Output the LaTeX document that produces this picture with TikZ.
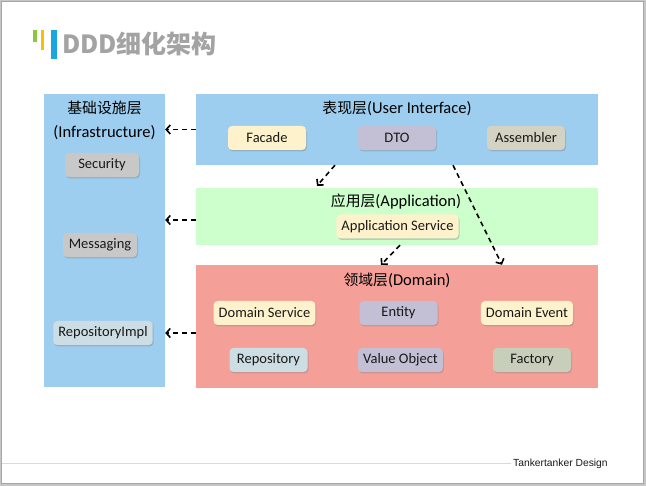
\documentclass[tikz,border=0pt]{standalone}
\usepackage{fontspec}
\setmainfont{Carlito}
\newfontfamily\cjk{Noto Sans CJK SC}[Scale=0.9]
\newfontfamily\cjkhead{Noto Sans CJK SC}
\newfontfamily\footfont{Liberation Sans}
\usepackage{xcolor}
\definecolor{layerblue}{HTML}{9DCDEF}
\definecolor{layergreen}{HTML}{CCFFCC}
\definecolor{layerred}{HTML}{F4A099}
\definecolor{itemyellow}{HTML}{FDF2CB}
\definecolor{itemviolet}{HTML}{C3C0D6}
\definecolor{itemolive}{HTML}{D3D2C3}
\definecolor{itemsage}{HTML}{C7CEBA}
\definecolor{itemsteel}{HTML}{CCDDE4}
\definecolor{itemgray}{HTML}{C8C8C8}
\definecolor{titlegray}{HTML}{A3A3A3}
\definecolor{bargreen}{HTML}{8DC63F}
\definecolor{baryellow}{HTML}{F6C200}
\definecolor{barblue}{HTML}{19A6E1}
\usepackage{tikz}
\usetikzlibrary{arrows.meta, positioning, calc, shadows}

\begin{document}
\begin{tikzpicture}[x=1pt, y=-1pt, >={Straight Barb[length=4pt, width=9pt]},
  layer/.style={rectangle, inner sep=0pt},
  layertitle/.style={font=\fontsize{16.5}{20}\selectfont, inner sep=0pt},
  item/.style={rectangle, rounded corners=4pt, minimum width=78pt,
               minimum height=24pt, inner xsep=5pt, inner ysep=0pt,
               font=\fontsize{14.5}{17}\selectfont, text=black!90,
               drop shadow={shadow xshift=1pt, shadow yshift=-1.5pt, opacity=0.35}},
  dep/.style={->, line width=1.6pt, dash pattern=on 5pt off 4pt}]

  \useasboundingbox (0,0) rectangle (646,486);

  % page
  \fill[gray!45] (0,0) rectangle (646,486);
  \fill[white] (1,1) rectangle (643,483);
  \draw[gray!70, line width=0.8pt] (1.5,1.5) rectangle (643,483);

  % heading
  \fill[bargreen] (33,30) rectangle (37,42);
  \fill[baryellow] (41,30) rectangle (44,50);
  \fill[barblue] (51,30) rectangle (57,59);
  \node[anchor=west, inner sep=0pt, text=titlegray,
        font=\cjkhead\bfseries\fontsize{25}{29}\selectfont] (title) at (62,44)
        {DDD细化架构};

  % layers
  \node[layer, fill=layerblue, minimum width=121pt, minimum height=293pt] (infra) at (104.5,240.5) {};
  \node[layertitle] (infratitle) at (104.5,108) {\cjk 基础设施层};
  \node[layertitle] (infrasub) at (104.5,133) {(Infrastructure)};

  \node[layer, fill=layerblue, minimum width=402pt, minimum height=71pt] (ui) at (397,129.5) {};
  \node[layertitle] (uititle) at (397,108) {{\cjk 表现层}(User Interface)};

  \node[layer, fill=layergreen, minimum width=402pt, minimum height=57pt] (app) at (397,216.5) {};
  \node[layertitle] (apptitle) at (396,202) {{\cjk 应用层}(Application)};

  \node[layer, fill=layerred, minimum width=402pt, minimum height=123pt] (dom) at (397,326.5) {};
  \node[layertitle] (domtitle) at (397,280) {{\cjk 领域层}(Domain)};

  % building blocks
  \node[item, fill=itemgray, minimum width=74pt] (security) at (102,165) {Security};
  \node[item, fill=itemgray, minimum width=74pt] (messaging) at (100,245) {Messaging};
  \node[item, fill=itemsteel] (repoimpl) at (103,333) {RepositoryImpl};

  \node[item, fill=itemyellow] (facade) at (267,138) {Facade};
  \node[item, fill=itemviolet] (dto) at (397,138) {DTO};
  \node[item, fill=itemolive] (assembler) at (526,138) {Assembler};

  \node[item, fill=itemyellow] (appservice) at (397.5,226.5) {Application Service};

  \node[item, fill=itemyellow] (domservice) at (264.5,313) {Domain Service};
  \node[item, fill=itemviolet] (entity) at (398.5,313) {Entity};
  \node[item, fill=itemyellow] (domevent) at (527,313) {Domain Event};
  \node[item, fill=itemsteel] (repository) at (268.5,360) {Repository};
  \node[item, fill=itemviolet] (valueobj) at (400.5,360) {Value Object};
  \node[item, fill=itemsage] (factory) at (532,360) {Factory};

  % dependencies
  \coordinate (appout) at ([yshift=-3.5pt]app.west);
  \draw[dep] (ui.west) -- (infra.east |- ui.west);
  \draw[dep] (appout) -- (infra.east |- appout);
  \draw[dep] (dom.west |- repoimpl) -- (infra.east |- repoimpl);

  \draw[dep] ([xshift=-62pt]ui.south) -- ([xshift=-80pt, yshift=2pt]app.north);
  \draw[dep] ([xshift=56pt]ui.south) -- ([xshift=105pt]dom.north);
  \draw[dep] ([xshift=3pt]app.south) -- ([xshift=-16pt]dom.north);

  % footer
  \node[anchor=west, inner sep=0pt, text=black!90,
        font=\footfont\fontsize{10.3}{12}\selectfont] (brand) at (513,464) {Tankertanker Design};
  \coordinate (footstart) at (2,464);
  \draw[gray!30, line width=1pt] (footstart) -- ([xshift=-2pt]brand.west);

\end{tikzpicture}
\end{document}
